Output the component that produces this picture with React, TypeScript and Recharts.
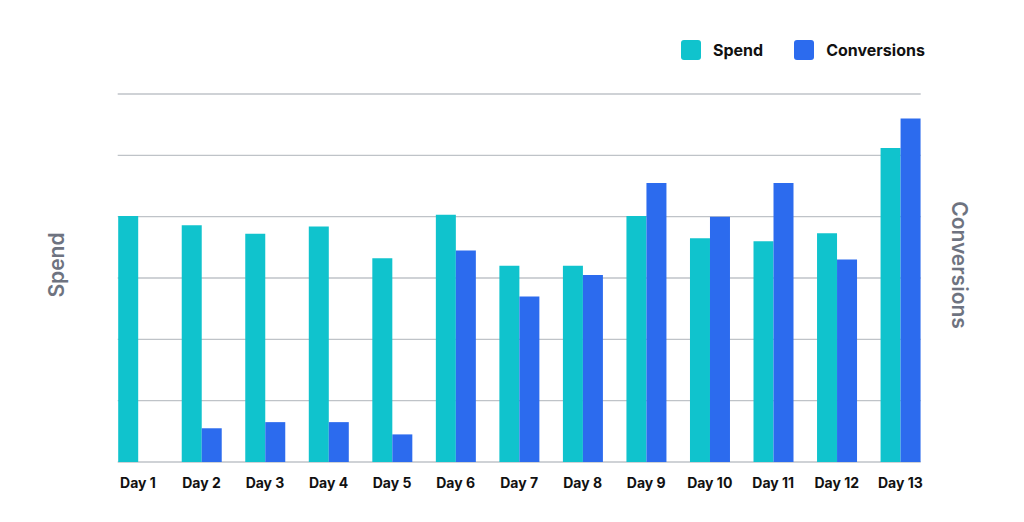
import React from "react";
import { BarChart, Bar, XAxis, YAxis, CartesianGrid } from "recharts";

const days = ["Day 1", "Day 2", "Day 3", "Day 4", "Day 5", "Day 6", "Day 7", "Day 8", "Day 9", "Day 10", "Day 11", "Day 12", "Day 13"];
const spend = [401, 386, 372, 384, 332, 403, 320, 320, 401, 365, 360, 373, 512];
const conversions = [0, 11, 13, 13, 9, 69, 54, 61, 91, 80, 91, 66, 112];
const spendTicks = [0, 100, 200, 300, 400, 500, 600];
const conversionTicks = [0, 20, 40, 60, 80, 100, 120];

const SPEND_COLOR = "#10C3CD";
const CONV_COLOR = "#2C6BEE";

const series = [
  { key: "spend", name: "Spend", color: SPEND_COLOR },
  { key: "conversions", name: "Conversions", color: CONV_COLOR },
];

const data = days.map((d, i) => ({ day: d, spend: spend[i], conversions: conversions[i] }));

const FONT = "Inter, Roboto, 'Noto Sans', sans-serif";

export default function App() {
  return (
    <div style={{ position: "relative", width: 1008, height: 506, fontFamily: FONT }}>
      <BarChart
        width={1008}
        height={506}
        data={data}
        margin={{ top: 86, right: 95.3, left: 109.7, bottom: 22 }}
        barGap={0}
        barSize={20}
      >
        <CartesianGrid yAxisId="left" vertical={false} stroke="#BFC3C8" strokeWidth={1.3} />
        <XAxis
          dataKey="day"
          axisLine={false}
          tickLine={false}
          interval={0}
          height={30}
          tickMargin={10}
          padding={{ left: -11.5, right: -11.4 }}
          tick={{ fill: "#111111", fontSize: 14, fontWeight: 700, fontFamily: FONT }}
        />
        <YAxis yAxisId="left" hide domain={[0, 600]} ticks={spendTicks} />
        <YAxis yAxisId="right" orientation="right" hide domain={[0, 120]} ticks={conversionTicks} />
        <Bar yAxisId="left" dataKey="spend" name="Spend" fill={SPEND_COLOR} isAnimationActive={false} />
        <Bar yAxisId="right" dataKey="conversions" name="Conversions" fill={CONV_COLOR} isAnimationActive={false} />
      </BarChart>

      <div
        style={{
          position: "absolute",
          left: 48,
          top: 257,
          transform: "translate(-50%, -50%) rotate(-90deg)",
          fontSize: 21,
          fontWeight: 600,
          color: "#6E7380",
          whiteSpace: "nowrap",
        }}
      >
        Spend
      </div>
      <div
        style={{
          position: "absolute",
          left: 950.5,
          top: 257,
          transform: "translate(-50%, -50%) rotate(90deg)",
          fontSize: 21,
          fontWeight: 600,
          color: "#6E7380",
          whiteSpace: "nowrap",
        }}
      >
        Conversions
      </div>

      <div style={{ position: "absolute", left: 673, top: 32, display: "flex", alignItems: "center" }}>
        {series.map((s, i) => (
          <div key={s.key} style={{ display: "flex", alignItems: "center", marginLeft: i === 0 ? 0 : 31 }}>
            <div style={{ width: 20, height: 20, borderRadius: 3, background: s.color }} />
            <span style={{ marginLeft: 12, fontSize: 16, fontWeight: 700, color: "#111111" }}>{s.name}</span>
          </div>
        ))}
      </div>
    </div>
  );
}
